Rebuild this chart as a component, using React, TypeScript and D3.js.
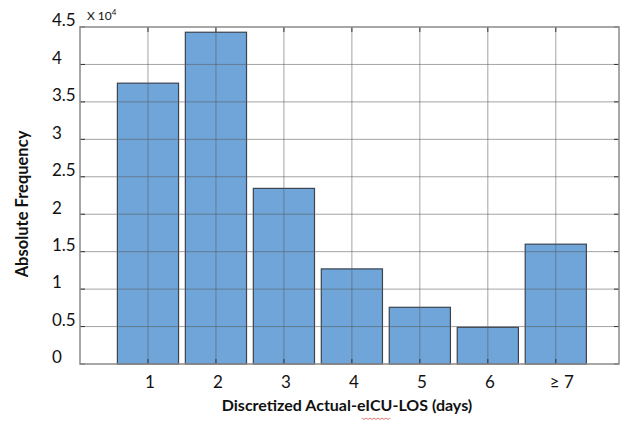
import React from "react";
import * as d3 from "d3";

const categories = ["1", "2", "3", "4", "5", "6", "≥ 7"];
const values = [37500, 44300, 23450, 12700, 7570, 4900, 16000];
const yTicks = [0, 0.5, 1, 1.5, 2, 2.5, 3, 3.5, 4, 4.5];

export default function App() {
  const W = 624, H = 423;
  const L = 80, T = 27, R = 619, B = 364;
  const x = d3.scaleLinear().domain([0, 7.93]).range([L, R]);
  const y = d3.scaleLinear().domain([0, 4.5]).range([B, T]);
  const font = "Lato, 'Open Sans', sans-serif";
  const gridColor = "rgba(90,90,90,0.55)";
  const bw = 0.9;
  // spell-check squiggle under "eICU"
  const sq: [number, number][] = d3.range(0, 15).map((k) => [362 + k * 2, 418 + (k % 2 === 0 ? 0 : 1.5)]);
  const sqPath = d3.line()(sq) || "";
  return (
    <svg width={W} height={H} style={{ position: "absolute", left: 0, top: 0, background: "#fff" }}>
      {values.map((v, i) => (
        <rect key={i} x={x(i + 1 - bw / 2)} y={y(v / 1e4)} width={x(i + 1 + bw / 2) - x(i + 1 - bw / 2)}
          height={B - y(v / 1e4)} fill="#6fa5d9" stroke="#3b4450" strokeWidth={1.2} />
      ))}
      {yTicks.slice(1, -1).map((t) => (
        <line key={"gy" + t} x1={L} x2={R} y1={y(t)} y2={y(t)} stroke={gridColor} strokeWidth={1} />
      ))}
      {categories.map((c, i) => (
        <line key={"gx" + i} x1={x(i + 1)} x2={x(i + 1)} y1={T} y2={B} stroke={gridColor} strokeWidth={1} />
      ))}
      {yTicks.map((t) => (
        <g key={"ty" + t}>
          <line x1={L} x2={L + 5} y1={y(t)} y2={y(t)} stroke="#333" />
          <line x1={R - 5} x2={R} y1={y(t)} y2={y(t)} stroke="#333" />
        </g>
      ))}
      {categories.map((c, i) => (
        <g key={"tx" + i}>
          <line x1={x(i + 1)} x2={x(i + 1)} y1={B} y2={B - 5} stroke="#333" />
          <line x1={x(i + 1)} x2={x(i + 1)} y1={T} y2={T + 5} stroke="#333" />
        </g>
      ))}
      <rect x={L} y={T} width={R - L} height={B - T} fill="none" stroke="#8a8a8a" strokeWidth={1.5} />
      {yTicks.map((t) => (
        <text key={"yl" + t} x={52} y={y(t) - 5} fontFamily={font} fontSize={17} fill="#111" dominantBaseline="middle">
          {String(t)}
        </text>
      ))}
      <text x={87} y={20} fontFamily={font} fontSize={12} fill="#111">
        X 10<tspan dy={-5} fontSize={8}>4</tspan>
      </text>
      {categories.map((c, i) => (
        <text key={"xl" + i} x={x(i + 1) + (i === 6 ? 6 : 2)} y={384} fontFamily={font} fontSize={17} fill="#111"
          textAnchor="middle" dominantBaseline="middle">
          {c}
        </text>
      ))}
      <text x={347} y={411} fontFamily={font} fontSize={16} fontWeight="bold" fill="#111" textAnchor="middle">
        Discretized Actual-eICU-LOS (days)
      </text>
      <path d={sqPath} fill="none" stroke="#d9534f" strokeWidth={0.8} />
      <text transform="translate(28,204) rotate(-90)" fontFamily={font} fontSize={16.5} fontWeight="bold" fill="#111"
        textAnchor="middle">
        Absolute Frequency
      </text>
    </svg>
  );
}
